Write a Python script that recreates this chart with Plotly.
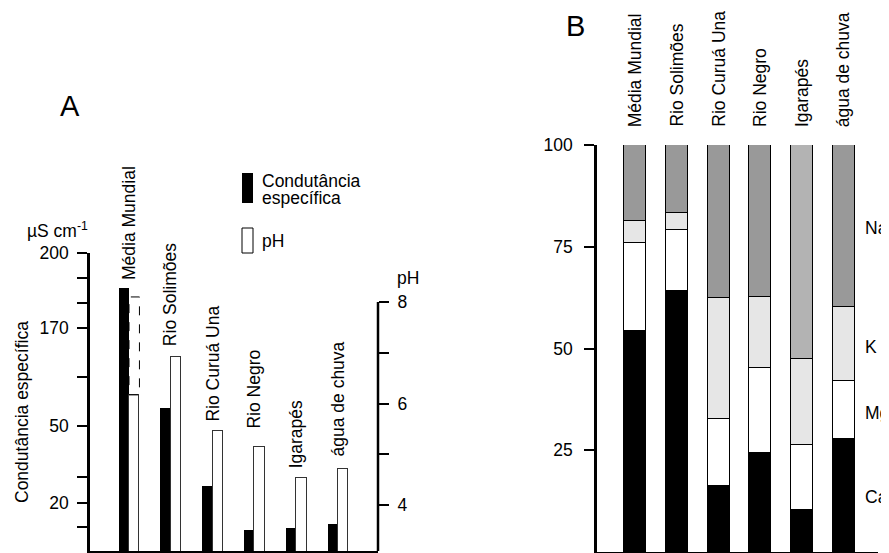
import numpy as np
import plotly.graph_objects as go

# ---------------- data ----------------
CATEGORIES = ["Média Mundial", "Rio Solimões", "Rio Curuá Una", "Rio Negro", "Igarapés", "água de chuva"]

# Panel A
CONDUTANCIA = [186, 72, 26.6, 8.8, 9.7, 11.3]          # µS cm-1
PH = [6.17, 6.92, 5.46, 5.15, 4.53, 4.71]
PH_MEDIA_MAX = 8.1                                      # dashed upper range for world average

# Panel B (% of cations)
CA = [54.2, 64.1, 16.2, 24.4, 10.3, 27.8]
MG = [21.7, 15.1, 16.4, 20.8, 15.9, 14.2]
K = [5.5, 4.1, 29.8, 17.5, 21.3, 18.1]
NA = [18.6, 16.7, 37.6, 37.3, 52.5, 39.9]

# Axis tick labels
COND_TICK_LABELS = [20, 50, 170, 200]
COND_MINOR_TICKS = [10, 30, 110, 180, 190]
PH_TICKS = [4, 5, 6, 7, 8]
PH_TICK_LABELS = ["4", "", "6", "", "8"]
PCT_TICKS = [25, 50, 75, 100]
ION_LABELS = ["Na", "K", "Mg", "Ca"]

# ---------------- layout helpers (page pixel -> paper fraction) ----------------
W, H = 889, 553
PAGE_OFFSET = 8  # default page margin around the plot div
def fx(px):
    return (px - PAGE_OFFSET) / W
def fy(py):
    return (H - (py - PAGE_OFFSET)) / H

# non-linear (piecewise) conductance scale of the original drawing
COND_KNOTS = [0, 20, 50, 170, 200]
COND_KNOT_POS = [0, 48, 125, 223, 298]
def cond_scale(v):
    return np.interp(v, COND_KNOTS, COND_KNOT_POS)

Y_RANGE = [0, 298]
PH_LO = 3.094
PH_HI = PH_LO + 298 / 50.75
def ph_to_y(p):
    return (np.asarray(p) - PH_LO) / (PH_HI - PH_LO) * (Y_RANGE[1] - Y_RANGE[0])

FONT = "Liberation Sans"
FS = 17.5
idx = list(range(len(CATEGORIES)))
BW = 0.25

fig = go.Figure()

# Panel A bars
fig.add_trace(go.Bar(x=idx, y=cond_scale(CONDUTANCIA), xaxis="x", yaxis="y",
                     offset=-BW, width=BW, marker=dict(color="black", line=dict(width=0)),
                     showlegend=False, hoverinfo="skip"))
fig.add_trace(go.Bar(x=idx, y=PH, xaxis="x", yaxis="y2",
                     offset=0, width=BW, marker=dict(color="white", line=dict(color="#333", width=1)),
                     showlegend=False, hoverinfo="skip"))

# Panel B stacked bars
na_colors = ["#b3b3b3" if c == "Igarapés" else "#999999" for c in CATEGORIES]
for vals, col in [(CA, "black"), (MG, "white"), (K, "#e6e6e6"), (NA, na_colors)]:
    fig.add_trace(go.Bar(x=idx, y=vals, xaxis="x2", yaxis="y3", width=0.53,
                         marker=dict(color=col, line=dict(color="black", width=1.2)),
                         showlegend=False, hoverinfo="skip"))

shapes = []
# dashed range of world average pH
shapes.append(dict(type="rect", xref="x", yref="y2", x0=0, x1=BW, y0=PH[0], y1=PH_MEDIA_MAX,
                   line=dict(color="black", width=1, dash="dash"), fillcolor="rgba(0,0,0,0)"))
# right pH axis line (only up to pH 8)
shapes.append(dict(type="line", xref="paper", yref="y2", x0=fx(378), x1=fx(378), y0=PH_LO, y1=PH_TICKS[-1],
                   line=dict(color="black", width=2.5)))
# legend swatches
shapes.append(dict(type="rect", xref="paper", yref="paper", x0=fx(242), x1=fx(253), y0=fy(203), y1=fy(173),
                   fillcolor="black", line=dict(width=0)))
shapes.append(dict(type="rect", xref="paper", yref="paper", x0=fx(242), x1=fx(253), y0=fy(253), y1=fy(228),
                   fillcolor="white", line=dict(color="black", width=1)))

ann = []
def text(x, y, s, size=FS, xanchor="left", yanchor="middle", angle=0, xref="paper", yref="paper", yshift=0):
    ann.append(dict(x=x, y=y, xref=xref, yref=yref, text=s, showarrow=False, xanchor=xanchor,
                    yanchor=yanchor, textangle=angle, yshift=yshift, borderpad=0,
                    font=dict(family=FONT, size=size, color="black")))

# Panel A category labels
label_gap = [6, 9, 7, 16, 8, 10]
ph_tops = list(PH)
ph_tops[0] = PH_MEDIA_MAX
for i, c in enumerate(CATEGORIES):
    top = max(float(cond_scale(CONDUTANCIA[i])), float(ph_to_y(ph_tops[i])))
    text(i, top, c, xanchor="center", yanchor="bottom", angle=-90, xref="x", yref="y", yshift=label_gap[i] + 1)

# Panel B category labels
for i, c in enumerate(CATEGORIES):
    text(i, fy(128), c, xanchor="center", yanchor="bottom", angle=-90, xref="x2", yref="paper")

# Panel B ion labels
for lab, py in zip(ION_LABELS, [228, 347, 413, 497]):
    text(fx(864), fy(py), lab)

# other texts
text(fx(70), fy(106), "A", size=29, xanchor="center")
text(fx(575), fy(26), "B", size=29, xanchor="center")
text(fx(57), fy(230), "µS cm<sup>-1</sup>", xanchor="center")
text(fx(22), fy(412), "Condutância específica", xanchor="center", angle=-90)
text(fx(396), fy(278), "pH")
text(fx(261), fy(181), "Condutância")
text(fx(261), fy(198), "específica")
text(fx(261), fy(241), "pH")

axis_common = dict(showgrid=False, zeroline=False, linecolor="black", linewidth=2.5, automargin=False,
                   tickfont=dict(family=FONT, size=FS, color="black"))

fig.update_layout(
    width=W, height=H, margin=dict(l=0, r=0, t=0, b=0, pad=0, autoexpand=False),
    paper_bgcolor="white", plot_bgcolor="rgba(0,0,0,0)",
    barmode="stack", bargap=0, showlegend=False,
    xaxis=dict(domain=[fx(90), fx(378)], range=[-0.933, 5.957], anchor="y", showline=True,
               showticklabels=False, ticks="", **axis_common),
    yaxis=dict(domain=[fy(551), fy(253)], range=Y_RANGE, anchor="x", showline=True,
               tickvals=list(cond_scale(COND_TICK_LABELS)) + list(cond_scale(COND_MINOR_TICKS)),
               ticktext=[str(v) for v in COND_TICK_LABELS] + [""] * len(COND_MINOR_TICKS),
               ticks="outside", ticklen=10, tickwidth=2.2, tickcolor="black", ticklabelstandoff=5,
               **axis_common),
    yaxis2=dict(overlaying="y", side="right", anchor="x", range=[PH_LO, PH_HI], showline=False,
                tickvals=PH_TICKS, ticktext=PH_TICK_LABELS,
                ticks="outside", ticklen=10, tickwidth=2.2, tickcolor="black", ticklabelstandoff=5,
                **axis_common),
    xaxis2=dict(domain=[fx(597), fx(878)], range=[-0.92, 5.82], anchor="y3", showline=True,
                showticklabels=False, ticks="", **axis_common),
    yaxis3=dict(domain=[fy(552), fy(145)], range=[0, 100], anchor="x2", showline=True,
                tickvals=PCT_TICKS, ticktext=[str(v) for v in PCT_TICKS],
                ticks="outside", ticklen=10, tickwidth=2.2, tickcolor="black", ticklabelstandoff=8,
                **axis_common),
    shapes=shapes, annotations=ann,
)

fig.write_html("out.html")
